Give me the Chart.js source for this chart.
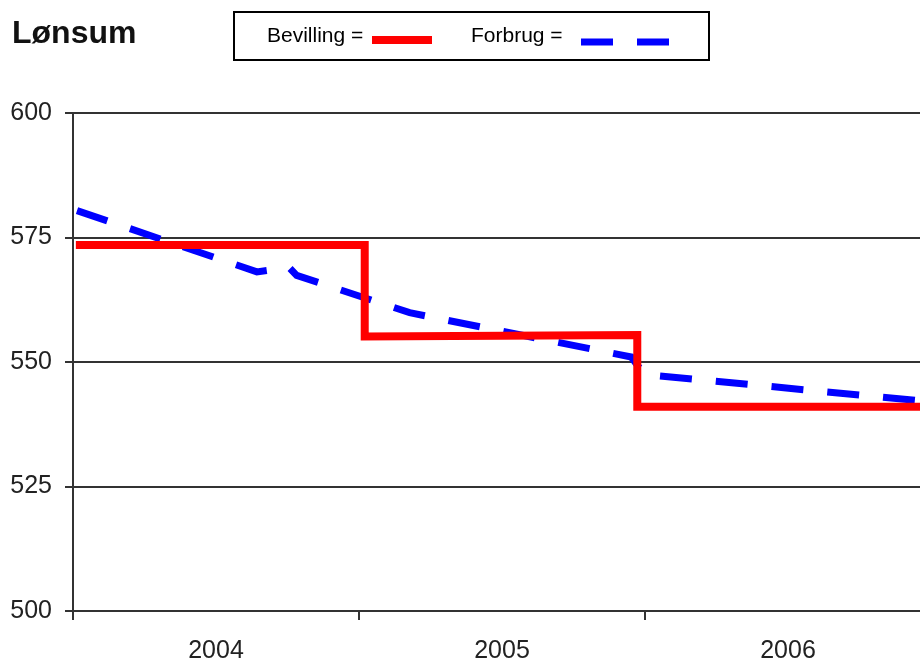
<!DOCTYPE html>
<html>
<head>
<meta charset="utf-8">
<script src="https://cdn.jsdelivr.net/npm/chart.js@4.4.1/dist/chart.umd.min.js"></script>
<style>
  html, body { margin: 0; padding: 0; background: #fff; overflow: hidden; }
  #wrap { position: relative; width: 936px; height: 659px; }
</style>
</head>
<body>
<div id="wrap"><canvas id="c"></canvas></div>
<script>
const chartTitle = 'Lønsum';
const yearLabels = ['2004', '2005', '2006'];
const yTickValues = [500, 525, 550, 575, 600];

// x is measured in years from the start of 2004 (0 = Jan 2004, 3 = end of 2006)
const bevillingX = [0.01, 1.02, 1.02, 1.973, 1.973, 3.0];
const bevillingY = [573.5, 573.5, 555.1, 555.4, 541.0, 541.0];

const forbrugX = [0.014, 0.643, 0.755, 0.782, 1.177, 1.952, 1.998, 3.0];
const forbrugY = [580.4, 568.1, 569.0, 567.4, 559.9, 551.0, 547.5, 542.0];

const toPoints = (xs, ys) => xs.map((x, i) => ({ x: x, y: ys[i] }));

const FONT = '"Liberation Sans", Arial, sans-serif';

// Title and boxed legend ("Label = sample") drawn on the canvas
const headerPlugin = {
  id: 'header',
  afterDraw(chart) {
    const c = chart.ctx;
    c.save();
    c.textAlign = 'left';
    c.textBaseline = 'alphabetic';
    c.fillStyle = '#111';
    c.font = 'bold 32px ' + FONT;
    c.fillText(chartTitle, 12, 43);

    c.lineWidth = 2;
    c.strokeStyle = '#000';
    c.setLineDash([]);
    c.strokeRect(234, 12, 475, 48);

    const slots = [
      { tx: 267, sx: 372, sw: 60, sy: 40 },
      { tx: 471, sx: 581, sw: 88, sy: 42 }
    ];
    c.font = '21px ' + FONT;
    chart.data.datasets.forEach((ds, i) => {
      const s = slots[i];
      c.fillStyle = '#000';
      c.fillText(ds.label + ' =', s.tx, 42);
      c.beginPath();
      c.strokeStyle = ds.borderColor;
      c.lineWidth = ds.borderWidth;
      c.lineCap = 'butt';
      c.setLineDash(ds.borderDash || []);
      c.moveTo(s.sx, s.sy);
      c.lineTo(s.sx + s.sw, s.sy);
      c.stroke();
    });
    c.restore();
  }
};

new Chart(document.getElementById('c'), {
  type: 'line',
  data: {
    datasets: [
      {
        label: 'Bevilling',
        data: toPoints(bevillingX, bevillingY),
        borderColor: '#ff0000',
        borderWidth: 8,
        borderJoinStyle: 'miter',
        pointRadius: 0,
        tension: 0,
        fill: false,
        xAxisID: 'x',
        yAxisID: 'y'
      },
      {
        label: 'Forbrug',
        data: toPoints(forbrugX, forbrugY),
        borderColor: '#0000ff',
        borderWidth: 7,
        borderDash: [32, 24],
        borderJoinStyle: 'miter',
        pointRadius: 0,
        tension: 0,
        fill: false,
        xAxisID: 'x',
        yAxisID: 'y'
      }
    ]
  },
  options: {
    responsive: true,
    maintainAspectRatio: false,
    animation: false,
    events: [],
    layout: { padding: { left: 10, top: 113, right: 5, bottom: 0 } },
    plugins: {
      legend: { display: false },
      title: { display: false },
      tooltip: { enabled: false }
    },
    scales: {
      x: { type: 'linear', min: 0, max: 3, display: false },
      years: {
        type: 'category',
        labels: yearLabels,
        position: 'bottom',
        offset: true,
        afterFit: axis => { axis.height = 48; },
        grid: { offset: true, drawOnChartArea: false, color: '#333', lineWidth: 2, tickLength: 9 },
        border: { display: true, color: '#333', width: 2 },
        ticks: { font: { family: FONT, size: 25 }, color: '#222', padding: 16, maxRotation: 0, autoSkip: false }
      },
      y: {
        type: 'linear',
        min: 500,
        max: 600,
        afterFit: axis => { axis.width = 63; },
        afterBuildTicks: axis => { axis.ticks = yTickValues.map(v => ({ value: v })); },
        grid: { color: '#333', lineWidth: 2, tickLength: 8 },
        border: { display: true, color: '#333', width: 2 },
        ticks: { font: { family: FONT, size: 25 }, color: '#222', padding: 13 }
      }
    }
  },
  plugins: [headerPlugin]
});
</script>
</body>
</html>
